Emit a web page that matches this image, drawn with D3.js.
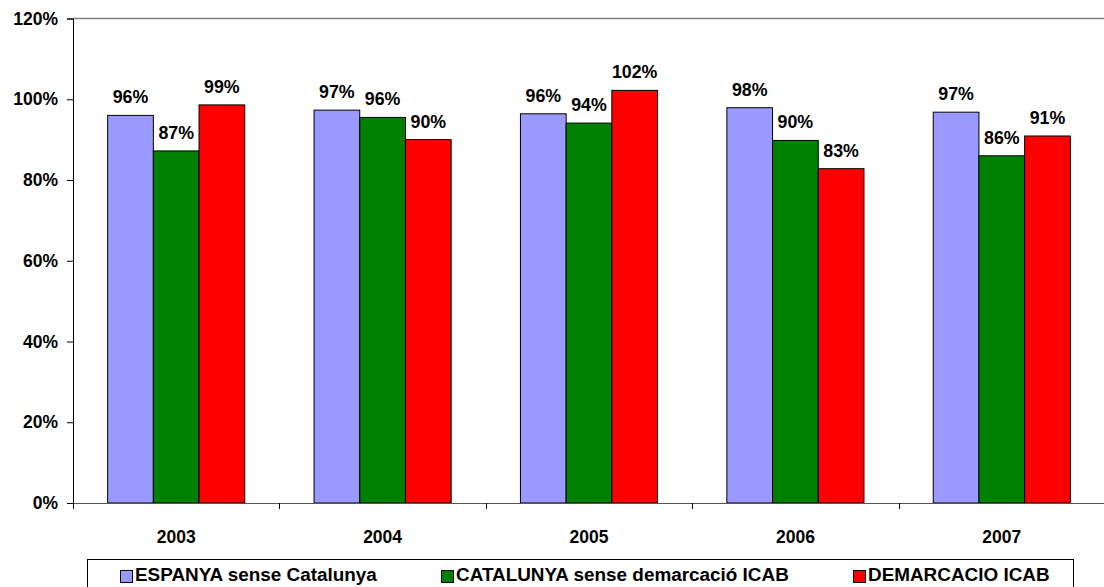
<!DOCTYPE html>
<html><head><meta charset="utf-8">
<script src="https://cdn.jsdelivr.net/npm/d3@7"></script>
<style>
html,body{margin:0;padding:0;background:#fff;overflow:hidden}
text{font-family:"Liberation Sans",Arial,sans-serif;font-weight:bold;fill:#000}
</style></head>
<body>
<svg id="c" width="1104" height="587"></svg>
<script>
const categories = ["2003","2004","2005","2006","2007"];
const seriesNames = ["ESPANYA sense Catalunya","CATALUNYA sense demarcació ICAB","DEMARCACIO ICAB"];
const espanya = [96, 97.3, 96.4, 97.9, 96.8];
const catalunya = [87.2, 95.5, 94.1, 89.8, 86.0];
const demarcacio = [98.6, 90.0, 102.2, 82.8, 90.9];
const yTicks = [0,20,40,60,80,100,120];
const colors = ["#9999FF","#008000","#FF0000"];

(function(){
const values = [espanya, catalunya, demarcacio];
const svg = d3.select("#c");
const mLeft = 73, mRight = 1105, mTop = 18.5, mBottom = 503;

const y = d3.scaleLinear().domain([0,120]).range([mBottom, mTop]);
const x0 = d3.scaleBand().domain(categories).range([mLeft, mRight]);
const x1 = d3.scaleBand().domain(d3.range(3)).range([0, x0.bandwidth()]).paddingOuter(0.758);

// plot area top border
svg.append("line").attr("x1", mLeft).attr("x2", 1104).attr("y1", mTop).attr("y2", mTop)
  .attr("stroke", "#808080").attr("stroke-width", 1.5);

// bars
categories.forEach((c, i) => {
  const g = svg.append("g").attr("transform", `translate(${x0(c)},0)`);
  values.forEach((vals, s) => {
    const v = vals[i];
    g.append("rect")
      .attr("x", x1(s)).attr("y", y(v))
      .attr("width", x1.bandwidth()).attr("height", y(0) - y(v))
      .attr("fill", colors[s]).attr("stroke", "#000").attr("stroke-width", 1);
    g.append("text")
      .attr("x", x1(s) + x1.bandwidth()/2).attr("y", y(v) - 12)
      .attr("text-anchor", "middle").attr("font-size", 17.8)
      .text(Math.round(v) + "%");
  });
});

// y axis
const yAxis = svg.append("g").attr("transform", `translate(${mLeft},0)`)
  .call(d3.axisLeft(y).tickValues(yTicks).tickSize(6).tickPadding(9).tickFormat(d => d + "%"));
yAxis.select(".domain").attr("stroke", "#000");
yAxis.selectAll("text").attr("font-size", 17.5).style("font-family", "Liberation Sans, Arial").style("font-weight", "bold");

// x axis
const xAxis = svg.append("g").attr("transform", `translate(0,${mBottom})`)
  .call(d3.axisBottom(x0).tickSize(0).tickPadding(28));
xAxis.select(".domain").attr("d", `M${mLeft},0.5H1104`).attr("stroke", "#555");
xAxis.selectAll("text").attr("font-size", 17.5).style("font-family", "Liberation Sans, Arial").style("font-weight", "bold");
// category boundary ticks
const bounds = categories.map(c => x0(c));
svg.selectAll(".bt").data(bounds).enter().append("line")
  .attr("x1", d => Math.round(d) + 0.5).attr("x2", d => Math.round(d) + 0.5)
  .attr("y1", mBottom).attr("y2", mBottom + 6).attr("stroke", "#000");

// legend
svg.append("rect").attr("x", 87.5).attr("y", 559.5).attr("width", 986).attr("height", 40)
  .attr("fill", "#fff").attr("stroke", "#000").attr("stroke-width", 1);
const legendX = [120, 441, 853];
seriesNames.forEach((n, s) => {
  svg.append("rect").attr("x", legendX[s] + 0.5).attr("y", 570.5).attr("width", 12).attr("height", 12)
    .attr("fill", colors[s]).attr("stroke", "#000");
  svg.append("text").attr("x", legendX[s] + 15).attr("y", 581)
    .attr("font-size", 18.9).text(n);
});
})();
</script>
</body></html>
